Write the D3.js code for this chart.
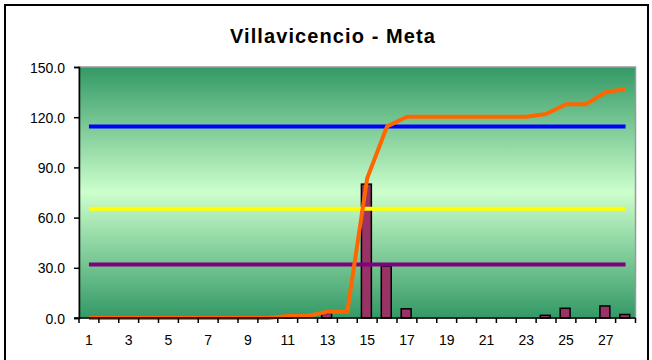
<!DOCTYPE html>
<html>
<head>
<meta charset="utf-8">
<script src="https://cdn.jsdelivr.net/npm/d3@7/dist/d3.min.js"></script>
<style>
  body { margin: 0; background: #fff; }
  svg { display: block; font-family: "Liberation Sans", Arial, sans-serif; }
</style>
</head>
<body>
<svg id="chart" width="652" height="360"></svg>
<script>
// Daily rainfall and its running total for Villavicencio - Meta
const days = [1, 2, 3, 4, 5, 6, 7, 8, 9, 10, 11, 12, 13, 14, 15, 16, 17, 18, 19, 20, 21, 22, 23, 24, 25, 26, 27, 28];
const daily = [0, 0, 0, 0, 0, 0, 0, 0, 0, 0, 1.2, 0, 2.8, 0, 80, 31, 5.5, 0, 0, 0, 0, 0, 0, 1.6, 5.8, 0, 7.2, 2.1];
const cumulative = [0, 0, 0, 0, 0, 0, 0, 0, 0, 0, 1.2, 1.2, 3.8, 3.8, 83.5, 114.5, 120.3, 120.3, 120.3, 120.3, 120.3, 120.3, 120.3, 121.9, 127.7, 127.7, 134.9, 136.9];
const xLabels = [1, 3, 5, 7, 9, 11, 13, 15, 17, 19, 21, 23, 25, 27];
const yTicks = [0, 30, 60, 90, 120, 150];
// Reference levels drawn as horizontal lines across the month
const levels = [
  { value: 114.5, color: "#0000ff" },
  { value: 65.3, color: "#ffff00" },
  { value: 32, color: "#800080" }
];

const svg = d3.select("#chart");
const plot = { left: 79, right: 635.5, top: 67, bottom: 318 };

const x = d3.scaleBand().domain(days).range([plot.left, plot.right]).paddingInner(0).paddingOuter(0);
const y = d3.scaleLinear().domain([0, 150]).range([plot.bottom, plot.top]);
const cx = d => x(d) + x.bandwidth() / 2;

// Outer chart frame
svg.append("rect")
  .attr("x", 5).attr("y", 5).attr("width", 643).attr("height", 370)
  .attr("fill", "#fff").attr("stroke", "#000").attr("stroke-width", 2);

// Title
svg.append("text")
  .attr("x", 333).attr("y", 43)
  .attr("text-anchor", "middle")
  .attr("font-size", 20).attr("font-weight", "bold")
  .attr("letter-spacing", 1.1)
  .text("Villavicencio - Meta");

// Plot background: green fading to pale in the middle
const defs = svg.append("defs");
const grad = defs.append("linearGradient").attr("id", "bg").attr("x1", 0).attr("y1", 0).attr("x2", 0).attr("y2", 1);
grad.append("stop").attr("offset", "0%").attr("stop-color", "#339966");
grad.append("stop").attr("offset", "50%").attr("stop-color", "#ccffcc");
grad.append("stop").attr("offset", "100%").attr("stop-color", "#339966");

svg.append("rect")
  .attr("x", plot.left).attr("y", plot.top)
  .attr("width", plot.right - plot.left).attr("height", plot.bottom - plot.top)
  .attr("fill", "url(#bg)").attr("stroke", "#999").attr("stroke-width", 1.5);

// Daily bars
const barW = x.bandwidth() * 0.5;
svg.append("g").selectAll("rect")
  .data(days.map((d, i) => ({ day: d, v: daily[i] })).filter(d => d.v > 0))
  .join("rect")
  .attr("x", d => cx(d.day) - barW / 2 - 0.8)
  .attr("y", d => y(d.v))
  .attr("width", barW)
  .attr("height", d => y(0) - y(d.v))
  .attr("fill", "#993366")
  .attr("stroke", "#000").attr("stroke-width", 1.5);

// Reference level lines
svg.append("g").selectAll("line")
  .data(levels)
  .join("line")
  .attr("x1", cx(days[0])).attr("x2", cx(days[days.length - 1]))
  .attr("y1", d => y(d.value)).attr("y2", d => y(d.value))
  .attr("stroke", d => d.color).attr("stroke-width", 4);

// Cumulative total
const line = d3.line().x((d, i) => cx(days[i])).y(d => y(d));
svg.append("path")
  .datum(cumulative)
  .attr("d", line)
  .attr("fill", "none")
  .attr("stroke", "#ff6600").attr("stroke-width", 4)
  .attr("stroke-linejoin", "round");

// Y axis
const yAxis = svg.append("g")
  .attr("transform", `translate(${plot.left},0)`)
  .call(d3.axisLeft(y).tickValues(yTicks).tickSize(5).tickPadding(9).tickFormat(d3.format(".1f")));
yAxis.select(".domain").attr("stroke", "#000").attr("stroke-width", 1.5);
yAxis.selectAll(".tick line").attr("stroke", "#000").attr("stroke-width", 1.5);
yAxis.selectAll("text").attr("font-size", 14).attr("font-family", "Liberation Sans, Arial, sans-serif").attr("fill", "#000").attr("dy", "0.36em");

// X axis: tick marks sit on category boundaries, labels on every other day
const xAxis = svg.append("g").attr("transform", `translate(0,${plot.bottom})`);
xAxis.append("line")
  .attr("x1", plot.left - 5).attr("x2", plot.right)
  .attr("stroke", "#000").attr("stroke-width", 1.5);
const edges = days.map(d => x(d)).concat([x.range()[1]]);
xAxis.selectAll("line.tk")
  .data(edges)
  .join("line").attr("class", "tk")
  .attr("x1", d => d).attr("x2", d => d)
  .attr("y1", 0).attr("y2", 5)
  .attr("stroke", "#000").attr("stroke-width", 1.5);
xAxis.selectAll("text")
  .data(xLabels)
  .join("text")
  .attr("x", d => cx(d))
  .attr("y", 27)
  .attr("text-anchor", "middle")
  .attr("font-size", 14)
  .text(d => d);
</script>
</body>
</html>
